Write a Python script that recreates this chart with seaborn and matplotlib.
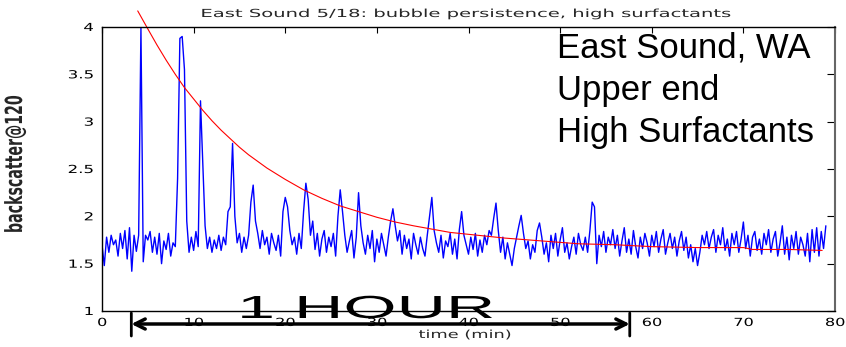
import numpy as np
import pandas as pd
import matplotlib
matplotlib.use("Agg")
import matplotlib.pyplot as plt
import seaborn as sns
from matplotlib.patheffects import AbstractPathEffect
from matplotlib.transforms import Affine2D

# ---------------- data ----------------
blue_values = [
    1.70, 1.48, 1.78, 1.62,  1.80, 1.70, 1.75, 1.58,  1.82, 1.66, 1.85, 1.55,  1.88, 1.42, 1.80, 1.63,
    1.80, 3.99, 1.52, 1.80,  1.75, 1.84, 1.62, 1.78,  1.60, 1.82, 1.50, 1.74,  1.65, 1.82, 1.58, 1.72,
    1.68, 2.40, 3.88, 3.90,  3.55, 1.95, 1.62, 1.78,  1.64, 1.84, 1.68, 3.22,  2.55, 1.90, 1.66, 1.78,
    1.62, 1.75, 1.66, 1.80,  1.64, 1.78, 1.70, 2.05,  2.10, 2.77, 2.00, 1.72,  1.82, 1.62, 1.78, 1.66,
    1.80, 2.15, 2.33, 1.95,  1.82, 1.66, 1.85, 1.70,  1.78, 1.60, 1.82, 1.72,  1.64, 1.80, 1.58, 2.05,
    2.20, 2.10, 1.85, 1.70,  1.78, 1.60, 1.82, 1.66,  2.05, 2.35, 2.18, 1.80,  1.95, 1.65, 1.82, 1.58,
    1.76, 1.85, 1.62, 1.78,  1.68, 1.82, 1.58, 2.00,  2.28, 2.05, 1.80, 1.62,  1.74, 1.85, 1.56, 1.78,
    2.25, 1.90, 1.72, 1.60,  1.80, 1.66, 1.85, 1.52,  1.76, 1.62, 1.82, 1.70,  1.58, 1.78, 1.95, 2.08,
    1.90, 1.74, 1.85, 1.60,  1.80, 1.66, 1.76, 1.55,  1.82, 1.70, 1.60, 1.78,  1.66, 1.58, 1.80, 2.00,
    2.20, 1.85, 1.72, 1.62,  1.80, 1.56, 1.74, 1.68,  1.82, 1.60, 1.76, 1.55,  1.86, 2.05, 1.80, 1.70,
    1.60, 1.78, 1.65, 1.82,  1.58, 1.75, 1.62, 1.80,  1.70, 1.85, 1.80, 1.98,  2.14, 1.85, 1.62, 1.78,
    1.55, 1.72, 1.60, 1.48,  1.66, 1.78, 1.90, 2.01,  1.82, 1.66, 1.74, 1.55,  1.70, 1.62, 1.85, 1.93,
    1.78, 1.60, 1.72, 1.52,  1.80, 1.66, 1.82, 1.58,  1.75, 1.88, 1.62, 1.72,  1.55, 1.68, 1.78, 1.60,
    1.82, 1.70, 1.64, 1.78,  1.62, 1.85, 2.15, 2.10,  1.50, 1.80, 1.68, 1.84,  1.62, 1.78, 1.70, 1.86,
    1.66, 1.80, 1.58, 1.74,  1.88, 1.62, 1.76, 1.60,  1.85, 1.68, 1.56, 1.78,  1.66, 1.82, 1.72, 1.58,
    1.80, 1.68, 1.84, 1.62,  1.76, 1.86, 1.60, 1.72,  1.82, 1.66, 1.78, 1.58,  1.74, 1.84, 1.64, 1.78,
    1.56, 1.70, 1.52, 1.66,  1.48, 1.62, 1.80, 1.70,  1.84, 1.66, 1.78, 1.86,  1.62, 1.80, 1.70, 1.88,
    1.64, 1.76, 1.58, 1.82,  1.70, 1.84, 1.62, 1.76,  1.94, 1.66, 1.80, 1.58,  1.78, 1.84, 1.64, 1.76,
    1.60, 1.82, 1.70, 1.86,  1.62, 1.76, 1.84, 1.58,  1.72, 1.90, 1.60, 1.78,  1.54, 1.80, 1.66, 1.84,
    1.60, 1.78, 1.70, 1.58,  1.82, 1.52, 1.86, 1.62,  1.88, 1.58, 1.84, 1.66,
    1.90,
]
blue_time = np.arange(len(blue_values)) * 0.25   # sampling every quarter minute

red_time = [3.9, 5, 6, 7, 8, 9, 10, 11, 12, 13, 14, 15, 16, 18, 20, 22, 24, 26, 28, 30,
            32, 34, 36, 38, 40, 44, 48, 52, 56, 60, 65, 70, 71, 75, 78.6]
red_values = [4.17, 3.98, 3.81, 3.65, 3.50, 3.36, 3.24, 3.12, 3.01, 2.91, 2.82, 2.73, 2.65,
              2.51, 2.39, 2.28, 2.19, 2.11, 2.05, 1.99, 1.94, 1.90, 1.865, 1.83, 1.81,
              1.77, 1.74, 1.71, 1.70, 1.68, 1.67, 1.67, 1.65, 1.65, 1.64]

x_ticks = [0, 10, 20, 30, 40, 50, 60, 70, 80]
y_ticks = [1, 1.5, 2, 2.5, 3, 3.5, 4]
y_tick_labels = ["1", "1.5", "2", "2.5", "3", "3.5", "4"]

title_text = "East Sound 5/18: bubble persistence, high surfactants"
site_text = "East Sound, WA\nUpper end\nHigh Surfactants"
hour_text = "1 HOUR"
hour_span = [3.2, 57.6]   # minutes spanned by the "1 HOUR" arrow
x_label = "time (min)"
y_label = "backscatter@120"


# ---------------- helpers ----------------
class Stretch(AbstractPathEffect):
    """Stretch glyph outlines (text stays a Text artist)."""
    def __init__(self, sx=1.0, sy=1.0, anchor="center"):
        super().__init__()
        self.sx, self.sy, self.anchor = sx, sy, anchor

    def draw_path(self, renderer, gc, tpath, affine, rgbFace=None):
        v = affine.transform(tpath.vertices)
        if len(v) == 0:
            renderer.draw_path(gc, tpath, affine, rgbFace)
            return
        x0, x1 = v[:, 0].min(), v[:, 0].max()
        y0, y1 = v[:, 1].min(), v[:, 1].max()
        axx = {"left": x0, "center": (x0 + x1) / 2, "right": x1}[self.anchor]
        ayy = (y0 + y1) / 2
        t = affine + Affine2D().translate(-axx, -ayy).scale(self.sx, self.sy).translate(axx, ayy)
        renderer.draw_path(gc, tpath, t, rgbFace)


# ---------------- figure ----------------
sns.set_style("white")
plt.rcParams["font.family"] = ["DejaVu Sans"]

W, H = 846, 347
fig = plt.figure(figsize=(W / 100, H / 100), dpi=100)
ax = fig.add_axes([102 / W, 1 - 311 / H, (835 - 102) / W, (311 - 27) / H])

df_blue = pd.DataFrame({"t": blue_time, "v": blue_values})
df_red = pd.DataFrame({"t": red_time, "v": red_values})

sns.lineplot(data=df_blue, x="t", y="v", ax=ax, color="#0000ff", lw=1.0, estimator=None)
sns.lineplot(data=df_red, x="t", y="v", ax=ax, color="#ff0000", lw=0.8, estimator=None)
ax.lines[-1].set_clip_on(False)

ax.set_xlim(0, 80)
ax.set_ylim(1, 4)
ax.set_xticks(x_ticks)
ax.set_xticklabels([str(v) for v in x_ticks])
ax.set_yticks(y_ticks)
ax.set_yticklabels(y_tick_labels)
ax.set_xlabel("")
ax.set_ylabel("")

for s in ax.spines.values():
    s.set_visible(True)
    s.set_color("black")
    s.set_linewidth(1.0)
ax.spines["right"].set_color("#666666")
ax.spines["right"].set_linewidth(1.5)

ax.tick_params(axis="both", which="both", direction="in", top=True, right=True,
               colors="black", labelsize=8, width=0.8)
ax.tick_params(axis="x", length=4, pad=5)
ax.tick_params(axis="y", length=6, pad=6)

for lbl in ax.get_xticklabels():
    lbl.set_path_effects([Stretch(sx=1.45, anchor="center")])
for lbl in ax.get_yticklabels():
    lbl.set_path_effects([Stretch(sx=1.5, anchor="right")])

# title
fig.text(466 / W, 1 - 17 / H, title_text, ha="center", va="baseline", fontsize=8,
         path_effects=[Stretch(sx=1.76, anchor="center")])

# x label
fig.text(465 / W, 1 - 338 / H, x_label, ha="center", va="baseline", fontsize=8,
         path_effects=[Stretch(sx=1.6, anchor="center")])

# y label (compressed, bold)
fig.text(15 / W, 1 - 164 / H, y_label, ha="center", va="center", rotation=90,
         fontsize=17, fontweight="bold",
         path_effects=[Stretch(sy=0.6, anchor="center")])

# site annotation
fig.text(557 / W, 1 - 31 / H, site_text, ha="left", va="top",
         fontsize=25, family="Liberation Sans", linespacing=1.37, color="black")

# 1 HOUR arrow
arrow_y = 1 - 324 / H
ax.annotate("", xy=(hour_span[0], arrow_y), xytext=(hour_span[1], arrow_y),
            xycoords=("data", "figure fraction"), textcoords=("data", "figure fraction"),
            arrowprops=dict(arrowstyle="<->", lw=2.5, color="black", mutation_scale=18,
                            shrinkA=0, shrinkB=0),
            annotation_clip=False)
for xe in hour_span:
    ax.annotate("", xy=(xe, 1 - 313 / H), xytext=(xe, 1 - 336 / H),
                xycoords=("data", "figure fraction"), textcoords=("data", "figure fraction"),
                arrowprops=dict(arrowstyle="-", lw=2.0, color="black", shrinkA=0, shrinkB=0),
                annotation_clip=False)

fig.text(237 / W, 1 - 318 / H, hour_text, ha="left", va="baseline", fontsize=23,
         family="Liberation Sans", color="black", zorder=10,
         path_effects=[Stretch(sx=2.14, anchor="left")])

fig.savefig("out.png", dpi=100, facecolor="white")
